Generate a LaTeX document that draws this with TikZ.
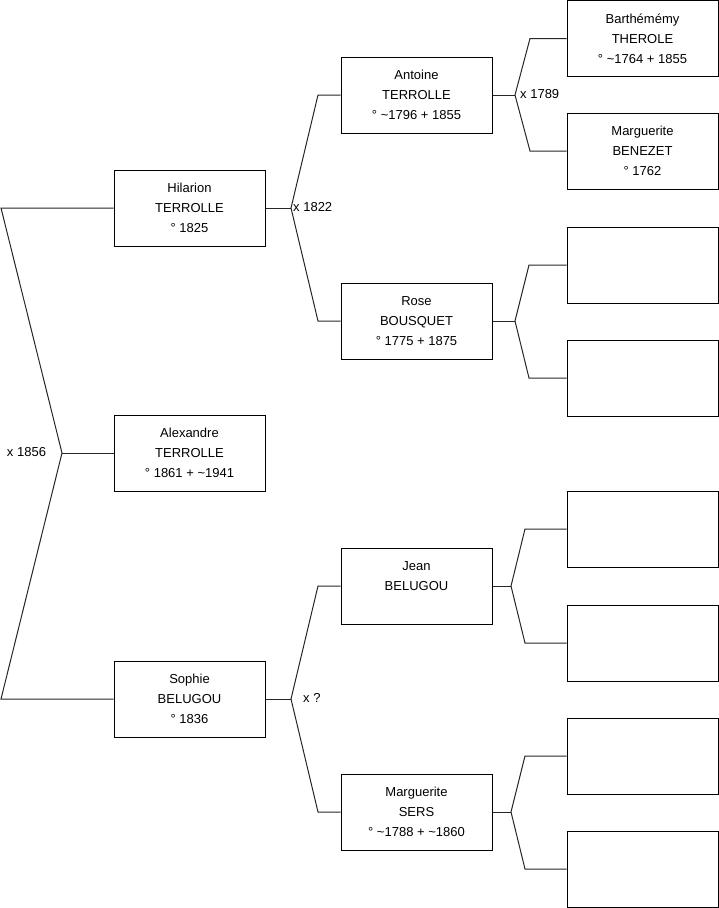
\documentclass[tikz,border=0pt]{standalone}
\usepackage{fontspec}
\setmainfont{Liberation Sans}
\begin{document}
\begin{tikzpicture}[x=1pt,y=-1pt,
  box/.style={draw=black,line width=1pt,minimum width=151pt,minimum height=76pt,inner sep=0pt,align=center,font=\fontsize{13}{20}\selectfont},
  link/.style={draw=black!85,line width=1pt},
  lbl/.style={inner sep=0pt,font=\fontsize{13}{16}\selectfont}]
\useasboundingbox (0,0) rectangle (719,908);
% generation 1/2
\node[box] (hil) at (189.5,208) {Hilarion\\TERROLLE\\° 1825};
\node[box] (ale) at (189.5,453) {Alexandre\\TERROLLE\\° 1861 + \textasciitilde1941};
\node[box] (sop) at (189.5,699) {Sophie\\BELUGOU\\° 1836};
% generation 3
\node[box] (ant) at (416.5,95) {Antoine\\TERROLLE\\° \textasciitilde1796 + 1855};
\node[box] (ros) at (416.5,321) {Rose\\BOUSQUET\\° 1775 + 1875};
\node[box] (jea) at (416.5,586) {Jean\\BELUGOU\\\phantom{X}};
\node[box] (mse) at (416.5,812) {Marguerite\\SERS\\° \textasciitilde1788 + \textasciitilde1860};
% generation 4
\node[box] (bar) at (642.5,38.5) {Barthémémy\\THEROLE\\° \textasciitilde1764 + 1855};
\node[box] (mbe) at (642.5,151) {Marguerite\\BENEZET\\° 1762};
\node[box] (e1) at (642.5,265) {};
\node[box] (e2) at (642.5,378) {};
\node[box] (e3) at (642.5,529) {};
\node[box] (e4) at (642.5,643) {};
\node[box] (e5) at (642.5,756) {};
\node[box] (e6) at (642.5,869) {};
% left bracket
\coordinate (la) at (1,208);
\coordinate (lb) at (1,699);
\coordinate (lv) at (62,453);
\draw[link] (hil.west) -- (la) -- (lv) -- (lb) -- (sop.west);
\draw[link] (lv) -- (ale.west);
\node[lbl] (m1856) at (26.5,452) {x 1856};
% Hilarion parents
\coordinate (hv) at (291,208);
\coordinate (ha) at (318,95);
\coordinate (hb) at (318,321);
\draw[link] (hil.east) -- (hv);
\draw[link] (ant.west) -- (ha) -- (hv) -- (hb) -- (ros.west);
\node[lbl,anchor=west] (m1822) at (293,207) {x 1822};
% Sophie parents
\coordinate (sv) at (291,699);
\coordinate (sa) at (318,586);
\coordinate (sb) at (318,812);
\draw[link] (sop.east) -- (sv);
\draw[link] (jea.west) -- (sa) -- (sv) -- (sb) -- (mse.west);
\node[lbl,anchor=west] (mq) at (303,698) {x ?};
% Antoine parents
\coordinate (av) at (515,95);
\coordinate (aa) at (530,38.5);
\coordinate (ab) at (530,151);
\draw[link] (ant.east) -- (av);
\draw[link] (bar.west) -- (aa) -- (av) -- (ab) -- (mbe.west);
\node[lbl,anchor=west] (m1789) at (520,94) {x 1789};
% Rose parents
\coordinate (rv) at (515,321);
\coordinate (ra) at (529,265);
\coordinate (rb) at (529,378);
\draw[link] (ros.east) -- (rv);
\draw[link] (e1.west) -- (ra) -- (rv) -- (rb) -- (e2.west);
% Jean parents
\coordinate (jv) at (511,586);
\coordinate (ja) at (525,529);
\coordinate (jb) at (525,643);
\draw[link] (jea.east) -- (jv);
\draw[link] (e3.west) -- (ja) -- (jv) -- (jb) -- (e4.west);
% Marguerite SERS parents
\coordinate (mv) at (511,812);
\coordinate (ma) at (525,756);
\coordinate (mb) at (525,869);
\draw[link] (mse.east) -- (mv);
\draw[link] (e5.west) -- (ma) -- (mv) -- (mb) -- (e6.west);
\end{tikzpicture}
\end{document}
